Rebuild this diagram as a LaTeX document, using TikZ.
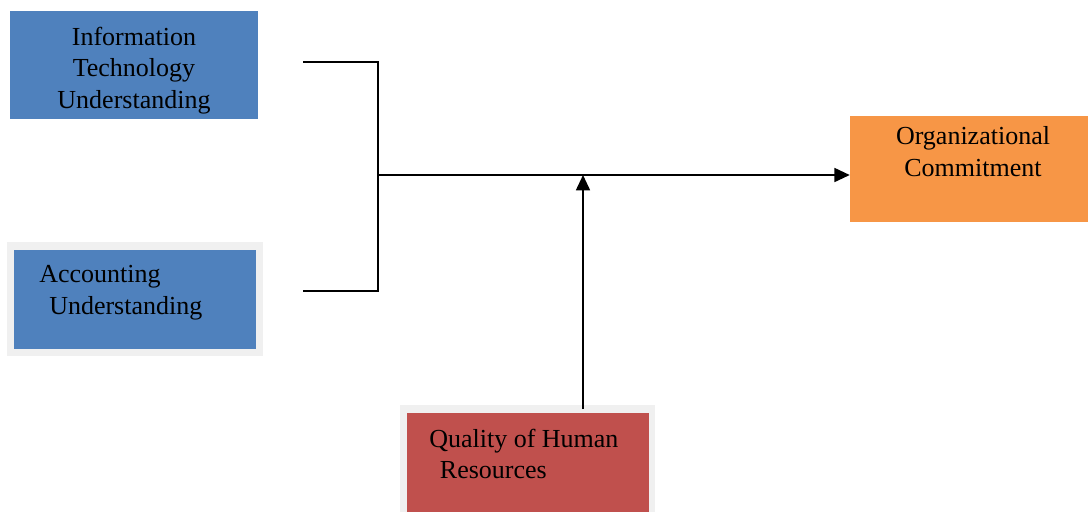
\documentclass[tikz,border=0pt]{standalone}
\usepackage{fontspec}
\setmainfont{Liberation Serif}
\usetikzlibrary{arrows.meta}
\definecolor{boxblue}{HTML}{4F81BD}
\definecolor{boxred}{HTML}{C0504D}
\definecolor{boxorange}{HTML}{F79646}
\definecolor{shadowgray}{HTML}{F0F0F0}
\begin{document}
\begin{tikzpicture}[x=0.75pt,y=-0.75pt,
  box/.style={rectangle, inner sep=0pt, draw=none},
  boxtxt/.style={inner sep=0pt, font=\fontsize{19.5}{23.5}\selectfont},
  link/.style={line width=1.3pt, black},
  arr/.style={link, -{Triangle[length=11.5pt,width=10.5pt]}}]
\useasboundingbox (0,0) rectangle (1088,512);
% boxes
\node[box, fill=boxblue, minimum width=186pt, minimum height=81pt] (it) at (134,65) {};
\node[box, fill=shadowgray, minimum width=192pt, minimum height=85.5pt] (accshadow) at (135,299) {};
\node[box, fill=boxblue, minimum width=181.5pt, minimum height=74.25pt] (acc) at (135,299.5) {};
\node[box, fill=shadowgray, minimum width=191.25pt, minimum height=80.25pt] (qshadow) at (527.5,458.5) {};
\node[box, fill=boxred, minimum width=181.5pt, minimum height=74.25pt] (qual) at (528,462.5) {};
\node[box, fill=boxorange, minimum width=178.5pt, minimum height=79.5pt] (org) at (969,169) {};
% texts
\node[boxtxt, anchor=north, align=center] (ittxt) at (134,27) {Information\\Technology\\Understanding};
\node[boxtxt, anchor=north west, align=left] (acctxt) at (39,265.5) {Accounting\\\hspace*{7.5pt}Understanding};
\node[boxtxt, anchor=north west, align=left] (qualtxt) at (429,428.5) {Quality of Human\\\hspace*{8pt}Resources};
\node[boxtxt, anchor=north, align=center] (orgtxt) at (973,126.5) {Organizational\\Commitment};
% connectors
\coordinate (itend) at (303,62);
\coordinate (j1) at (378,62);
\coordinate (accend) at (303,291);
\coordinate (j2) at (378,291);
\coordinate (mid) at (378,175);
\coordinate (qend) at (583,409);
\draw[link] (itend) -- (j1) -- (j2) -- (accend);
\draw[arr] (mid) -- (mid -| org.west);
\draw[arr] (qend) -- (qend |- mid);
\end{tikzpicture}
\end{document}
